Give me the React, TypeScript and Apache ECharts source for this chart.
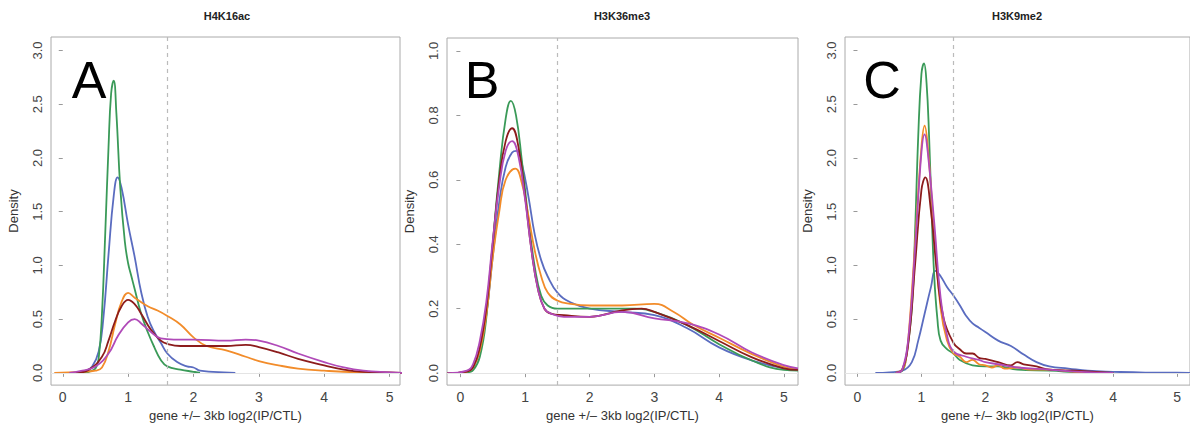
import React, { useEffect, useRef } from "react";
import * as echarts from "echarts";

type P = [number, number][];

const panelTitles = ["H4K16ac", "H3K36me3", "H3K9me2"];
const panelLetters = ["A", "B", "C"];
const xTicks = [0, 1, 2, 3, 4, 5];
const yTicksAC = [0, 0.5, 1, 1.5, 2, 2.5, 3];
const yTicksB = [0, 0.2, 0.4, 0.6, 0.8, 1.0];
const cutoffs = [1.6, 1.5, 1.5];
const seriesNames = ["blue", "green", "orange", "brown", "magenta"];
const colors = ["#5a6cc0", "#3a9a58", "#f28c2a", "#8c1c1c", "#b04ab8"];

// Panel A: H4K16ac
const aBlue: P = [[0.2, 0], [0.35, 0.02], [0.45, 0.06], [0.55, 0.2], [0.62, 0.5], [0.7, 1.1], [0.78, 1.65], [0.84, 1.82], [0.9, 1.72], [1.0, 1.38], [1.1, 1.08], [1.2, 0.75], [1.3, 0.52], [1.4, 0.38], [1.5, 0.28], [1.6, 0.18], [1.75, 0.1], [1.9, 0.06], [2.0, 0.05], [2.1, 0.02], [2.3, 0.01], [2.64, 0]];
const aGreen: P = [[0.3, 0], [0.4, 0.01], [0.5, 0.04], [0.55, 0.14], [0.6, 0.55], [0.65, 1.3], [0.7, 2.1], [0.74, 2.6], [0.78, 2.72], [0.82, 2.42], [0.88, 1.72], [0.95, 1.22], [1.0, 1.02], [1.05, 0.9], [1.1, 0.78], [1.2, 0.55], [1.3, 0.38], [1.4, 0.24], [1.5, 0.12], [1.6, 0.06], [1.8, 0.03], [2.0, 0.01], [2.1, 0]];
const aOrange: P = [[-0.13, 0], [0.3, 0.01], [0.5, 0.02], [0.6, 0.05], [0.7, 0.2], [0.8, 0.45], [0.9, 0.66], [1.0, 0.745], [1.1, 0.7], [1.3, 0.62], [1.45, 0.58], [1.6, 0.53], [1.8, 0.45], [2.0, 0.33], [2.2, 0.25], [2.5, 0.21], [2.8, 0.15], [3.0, 0.11], [3.3, 0.07], [3.6, 0.04], [4.0, 0.02], [4.5, 0.005], [5.2, 0]];
const aBrown: P = [[0.2, 0], [0.4, 0.03], [0.6, 0.15], [0.7, 0.3], [0.8, 0.48], [0.9, 0.62], [1.0, 0.68], [1.1, 0.64], [1.2, 0.55], [1.35, 0.4], [1.5, 0.3], [1.6, 0.27], [1.8, 0.25], [2.0, 0.25], [2.5, 0.25], [2.8, 0.26], [3.0, 0.24], [3.3, 0.19], [3.6, 0.13], [4.0, 0.07], [4.3, 0.03], [4.6, 0.01], [5.0, 0.005], [5.2, 0]];
const aMagenta: P = [[0.1, 0], [0.3, 0.02], [0.5, 0.06], [0.7, 0.18], [0.85, 0.35], [1.0, 0.47], [1.1, 0.5], [1.2, 0.46], [1.35, 0.38], [1.5, 0.32], [1.7, 0.31], [2.0, 0.31], [2.5, 0.3], [2.8, 0.31], [3.0, 0.3], [3.3, 0.25], [3.6, 0.18], [4.0, 0.1], [4.3, 0.05], [4.6, 0.02], [5.0, 0.005], [5.2, 0]];

// Panel B: H3K36me3
const bBlue: P = [[-0.2, 0], [0.1, 0.005], [0.2, 0.02], [0.3, 0.07], [0.4, 0.18], [0.5, 0.36], [0.6, 0.53], [0.7, 0.64], [0.8, 0.685], [0.87, 0.69], [0.95, 0.65], [1.05, 0.55], [1.15, 0.43], [1.25, 0.35], [1.35, 0.3], [1.5, 0.25], [1.7, 0.22], [2.0, 0.2], [2.5, 0.19], [3.0, 0.18], [3.5, 0.14], [4.0, 0.08], [4.5, 0.04], [5.0, 0.015], [5.22, 0.01]];
const bGreen: P = [[-0.2, 0], [0.1, 0.002], [0.2, 0.01], [0.3, 0.05], [0.4, 0.17], [0.5, 0.4], [0.6, 0.62], [0.7, 0.79], [0.78, 0.845], [0.86, 0.8], [0.95, 0.66], [1.05, 0.48], [1.15, 0.33], [1.25, 0.24], [1.35, 0.21], [1.5, 0.2], [2.0, 0.2], [2.5, 0.2], [2.7, 0.2], [3.0, 0.19], [3.5, 0.15], [4.0, 0.09], [4.5, 0.04], [5.0, 0.01], [5.22, 0.008]];
const bOrange: P = [[-0.2, 0], [0.1, 0.005], [0.2, 0.02], [0.3, 0.07], [0.4, 0.18], [0.5, 0.36], [0.6, 0.5], [0.7, 0.6], [0.85, 0.635], [0.95, 0.59], [1.05, 0.49], [1.15, 0.38], [1.25, 0.3], [1.35, 0.25], [1.5, 0.225], [1.7, 0.215], [2.0, 0.21], [2.5, 0.21], [3.0, 0.215], [3.3, 0.19], [3.6, 0.15], [4.0, 0.11], [4.5, 0.06], [5.0, 0.02], [5.22, 0.012]];
const bBrown: P = [[-0.2, 0], [0.1, 0.005], [0.2, 0.02], [0.3, 0.08], [0.4, 0.2], [0.5, 0.4], [0.6, 0.6], [0.7, 0.72], [0.8, 0.76], [0.9, 0.7], [1.0, 0.55], [1.1, 0.38], [1.2, 0.26], [1.3, 0.2], [1.4, 0.185], [1.6, 0.18], [2.0, 0.175], [2.5, 0.195], [2.8, 0.2], [3.0, 0.19], [3.5, 0.15], [4.0, 0.1], [4.5, 0.05], [5.0, 0.015], [5.22, 0.01]];
const bMagenta: P = [[-0.2, 0], [0.1, 0.008], [0.2, 0.03], [0.3, 0.1], [0.4, 0.22], [0.5, 0.41], [0.6, 0.58], [0.7, 0.69], [0.8, 0.72], [0.9, 0.67], [1.0, 0.54], [1.1, 0.38], [1.2, 0.26], [1.3, 0.2], [1.4, 0.185], [1.6, 0.175], [2.0, 0.175], [2.5, 0.19], [3.0, 0.17], [3.5, 0.155], [4.0, 0.12], [4.5, 0.065], [5.0, 0.025], [5.22, 0.015]];

// Panel C: H3K9me2
const cBlue: P = [[0.28, 0], [0.5, 0.005], [0.7, 0.02], [0.85, 0.1], [0.95, 0.3], [1.05, 0.55], [1.15, 0.8], [1.22, 0.95], [1.3, 0.9], [1.4, 0.8], [1.5, 0.72], [1.6, 0.63], [1.7, 0.53], [1.8, 0.46], [1.9, 0.42], [2.0, 0.38], [2.2, 0.3], [2.4, 0.25], [2.6, 0.17], [2.8, 0.1], [3.0, 0.06], [3.3, 0.04], [3.6, 0.02], [4.0, 0.01], [4.5, 0.003], [5.0, 0.002], [5.2, 0]];
const cGreen: P = [[0.6, 0], [0.7, 0.02], [0.75, 0.1], [0.85, 0.6], [0.9, 1.3], [0.95, 2.2], [1.0, 2.78], [1.04, 2.88], [1.08, 2.7], [1.12, 2.2], [1.16, 1.5], [1.2, 0.9], [1.25, 0.5], [1.3, 0.3], [1.4, 0.22], [1.5, 0.18], [1.6, 0.12], [1.8, 0.07], [2.0, 0.06], [2.2, 0.06], [2.5, 0.03], [3.0, 0.02], [3.5, 0.005], [4.0, 0]];
const cOrange: P = [[0.6, 0], [0.7, 0.03], [0.75, 0.1], [0.8, 0.35], [0.9, 1.2], [1.0, 2.1], [1.05, 2.3], [1.1, 2.1], [1.2, 1.3], [1.3, 0.6], [1.4, 0.3], [1.5, 0.18], [1.6, 0.15], [1.7, 0.1], [1.8, 0.12], [1.9, 0.08], [2.0, 0.07], [2.1, 0.05], [2.2, 0.07], [2.3, 0.04], [2.5, 0.05], [2.7, 0.03], [3.0, 0.03], [3.4, 0.01], [4.0, 0]];
const cBrown: P = [[0.6, 0], [0.7, 0.03], [0.8, 0.3], [0.9, 1.0], [1.0, 1.7], [1.06, 1.82], [1.15, 1.5], [1.25, 0.9], [1.35, 0.5], [1.5, 0.28], [1.6, 0.22], [1.7, 0.18], [1.8, 0.18], [1.9, 0.14], [2.0, 0.13], [2.2, 0.1], [2.4, 0.07], [2.5, 0.1], [2.6, 0.08], [2.8, 0.06], [3.0, 0.03], [3.4, 0.02], [4.0, 0]];
const cMagenta: P = [[0.6, 0], [0.7, 0.03], [0.8, 0.35], [0.9, 1.15], [1.0, 2.05], [1.05, 2.22], [1.1, 2.05], [1.2, 1.4], [1.3, 0.7], [1.4, 0.35], [1.5, 0.2], [1.7, 0.15], [1.9, 0.12], [2.0, 0.1], [2.2, 0.08], [2.5, 0.05], [3.0, 0.03], [3.5, 0.01], [4.0, 0]];

const panelData: P[][] = [
  [aBlue, aGreen, aOrange, aBrown, aMagenta],
  [bBlue, bGreen, bOrange, bBrown, bMagenta],
  [cBlue, cGreen, cOrange, cBrown, cMagenta],
];

const grids = [
  { left: 51, top: 37, width: 349, height: 351 },
  { left: 447, top: 38, width: 351, height: 350 },
  { left: 845, top: 37, width: 352, height: 351 },
];
const xRanges = [[-0.18, 5.16], [-0.207, 5.22], [-0.195, 5.2]];
const yRanges = [[-0.114, 3.126], [-0.037, 1.04], [-0.114, 3.126]];
const yTickSets = [yTicksAC, yTicksB, yTicksAC];
const titleX = [227, 622, 1017];
const letterX = [89, 482, 882];

const FONT = "Liberation Sans, Arial, sans-serif";

export default function App() {
  const ref = useRef<HTMLDivElement>(null);
  useEffect(() => {
    if (!ref.current) return;
    const chart = echarts.init(ref.current, null, { renderer: "svg" });
    const xAxis: any[] = [];
    const yAxis: any[] = [];
    const series: any[] = [];
    const graphic: any[] = [];
    for (let p = 0; p < 3; p++) {
      xAxis.push({
        type: "value",
        gridIndex: p,
        min: xRanges[p][0],
        max: xRanges[p][1],
        name: "gene +/\u2013 3kb log2(IP/CTL)",
        nameLocation: "middle",
        nameGap: 21,
        nameTextStyle: { fontFamily: FONT, fontSize: 13, color: "#333" },
        axisLine: { show: false },
        splitLine: { show: false },
        axisTick: { show: true, customValues: xTicks, length: 4, lineStyle: { color: "#999" } },
        axisLabel: { customValues: xTicks, fontFamily: FONT, fontSize: 14, color: "#444", margin: 5, formatter: (v: number) => String(v) },
      });
      yAxis.push({
        type: "value",
        gridIndex: p,
        min: yRanges[p][0],
        max: yRanges[p][1],
        name: "Density",
        nameLocation: "middle",
        nameRotate: 90,
        nameGap: 31,
        nameTextStyle: { fontFamily: FONT, fontSize: 13, color: "#333" },
        axisLine: { show: false },
        splitLine: { show: false },
        axisTick: { show: true, customValues: yTickSets[p], length: 4, lineStyle: { color: "#999" } },
        axisLabel: { customValues: yTickSets[p], rotate: 90, fontFamily: FONT, fontSize: 13, color: "#444", margin: 7, formatter: (v: number) => v.toFixed(1) },
      });
      panelData[p].forEach((d, i) => {
        series.push({
          type: "line",
          name: seriesNames[i],
          xAxisIndex: p,
          yAxisIndex: p,
          data: d,
          showSymbol: false,
          smooth: 0.45,
          lineStyle: { color: colors[i], width: 1.8 },
          z: 3,
          markLine: i === 0 ? {
            silent: true,
            symbol: "none",
            label: { show: false },
            data: [
              { xAxis: cutoffs[p], lineStyle: { color: "#bbb", type: [4, 4], width: 1.2 } },
              { yAxis: 0, lineStyle: { color: "#e4e4e4", type: "solid", width: 1 } },
            ],
          } : undefined,
        });
      });
      graphic.push({
        type: "text",
        x: titleX[p],
        y: 16,
        style: { text: panelTitles[p], fontFamily: FONT, fontSize: 11, fontWeight: "bold", fill: "#222", textAlign: "center", textVerticalAlign: "middle" },
      });
      graphic.push({
        type: "text",
        x: letterX[p],
        y: 80,
        style: { text: panelLetters[p], fontFamily: FONT, fontSize: 52, fill: "#000", textAlign: "center", textVerticalAlign: "middle" },
      });
    }
    chart.setOption({
      animation: false,
      backgroundColor: "#fff",
      grid: grids.map((g) => ({ ...g, show: true, borderColor: "#aaa", borderWidth: 1, backgroundColor: "transparent" })),
      xAxis,
      yAxis,
      series,
      graphic,
    });
    return () => chart.dispose();
  }, []);
  return <div ref={ref} style={{ position: "absolute", left: 0, top: 0, width: 1190, height: 427 }} />;
}
